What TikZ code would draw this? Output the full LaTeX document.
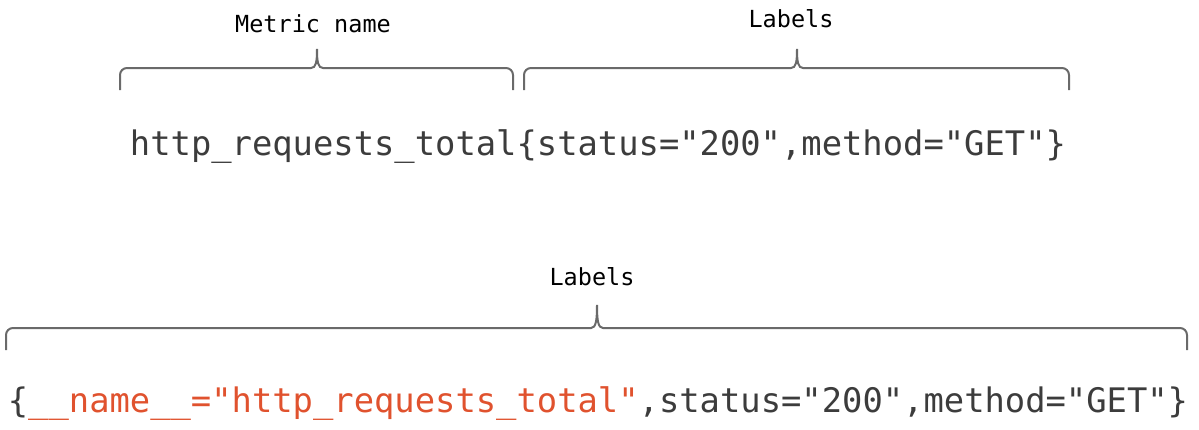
\documentclass[tikz,border=0pt]{standalone}
\usepackage{fontspec}
\setmonofont{DejaVu Sans Mono}
\usepackage{tikz}
\usetikzlibrary{calc}
\usepackage{xcolor}
\definecolor{CodeGray}{HTML}{3C3C3C}
\definecolor{BraceGray}{HTML}{6A6A6A}
\definecolor{NameOrange}{HTML}{E0522E}
\tikzset{
    bracket/.style={draw=BraceGray,line width=2pt},
    caption/.style={inner sep=0pt,anchor=base,text=black,font=\ttfamily\fontsize{23.5}{28}\selectfont},
    code/.style={inner sep=0pt,anchor=base,text=CodeGray,font=\ttfamily\fontsize{33.8}{40}\selectfont}
}

\begin{document}
\begin{tikzpicture}[x=1pt,y=-1pt]
    \useasboundingbox (0,0) rectangle (1199,429);

    \coordinate (NameL) at (120,90);
    \coordinate (NameT) at (317,49);
    \coordinate (NameR) at (513,90);
    \coordinate (LabL) at (524,90);
    \coordinate (LabT) at (797,49);
    \coordinate (LabR) at (1069,90);
    \coordinate (AllL) at (6,350);
    \coordinate (AllT) at (597,305);
    \coordinate (AllR) at (1187,350);

    \draw[bracket] (NameL) [rounded corners=7pt] -- (NameL |- 0,68) [sharp corners] -- ($(NameT |- 0,68)+(-6,0)$)
        .. controls ($(NameT |- 0,68)+(-1,0)$) and ($(NameT)+(0,13)$) .. (NameT)
        .. controls ($(NameT)+(0,13)$) and ($(NameT |- 0,68)+(1,0)$) .. ($(NameT |- 0,68)+(6,0)$)
        [rounded corners=7pt] -- (NameR |- 0,68) -- (NameR);
    \draw[bracket] (LabL) [rounded corners=7pt] -- (LabL |- 0,68) [sharp corners] -- ($(LabT |- 0,68)+(-6,0)$)
        .. controls ($(LabT |- 0,68)+(-1,0)$) and ($(LabT)+(0,13)$) .. (LabT)
        .. controls ($(LabT)+(0,13)$) and ($(LabT |- 0,68)+(1,0)$) .. ($(LabT |- 0,68)+(6,0)$)
        [rounded corners=7pt] -- (LabR |- 0,68) -- (LabR);
    \draw[bracket] (AllL) [rounded corners=7pt] -- (AllL |- 0,328) [sharp corners] -- ($(AllT |- 0,328)+(-6,0)$)
        .. controls ($(AllT |- 0,328)+(-1,0)$) and ($(AllT)+(0,15)$) .. (AllT)
        .. controls ($(AllT)+(0,15)$) and ($(AllT |- 0,328)+(1,0)$) .. ($(AllT |- 0,328)+(6,0)$)
        [rounded corners=7pt] -- (AllR |- 0,328) -- (AllR);

    \node[caption] (metricname) at (313,32) {Metric name};
    \node[caption] (labelstop) at (791,27) {Labels};
    \node[caption] (labelsall) at (592,285) {Labels};

    \node[code] (series) at (598,155) {http\_requests\_total\{status="200",method="GET"\}};
    \node[code] (labelset) at (598,412) {\{\textcolor{NameOrange}{\_\_name\_\_="http\_requests\_total"},status="200",method="GET"\}};
\end{tikzpicture}
\end{document}
